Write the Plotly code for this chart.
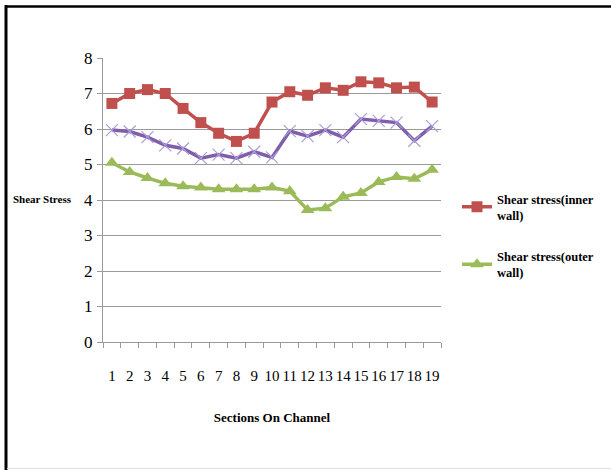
import plotly.graph_objects as go

sections = list(range(1, 20))
inner = [6.72, 7.0, 7.11, 7.0, 6.58, 6.18, 5.88, 5.65, 5.88, 6.76, 7.05, 6.95, 7.16, 7.09, 7.33, 7.3, 7.16, 7.18, 6.76]
outer = [5.05, 4.79, 4.62, 4.47, 4.39, 4.35, 4.3, 4.3, 4.3, 4.35, 4.25, 3.72, 3.77, 4.09, 4.2, 4.51, 4.65, 4.6, 4.85]
third = [5.97, 5.93, 5.77, 5.54, 5.45, 5.18, 5.28, 5.18, 5.36, 5.2, 5.94, 5.8, 5.97, 5.77, 6.28, 6.23, 6.18, 5.67, 6.08]
y_ticks = [0, 1, 2, 3, 4, 5, 6, 7, 8]

RED = "#C0504D"
GREEN = "#9BBB59"
PURPLE = "#7F5FAA"
FONT = "Liberation Serif, Times New Roman, serif"

x_cat = [str(s) for s in sections]

fig = go.Figure()
fig.add_trace(go.Scatter(
    x=x_cat, y=inner, mode="lines+markers", name="Shear stress(inner<br>wall)",
    legendgroup="inner",
    line=dict(color=RED, width=3.5),
    marker=dict(symbol="square", size=11, color=RED)))
fig.add_trace(go.Scatter(
    x=x_cat, y=outer, mode="lines+markers", name="Shear stress(outer<br>wall)",
    legendgroup="outer",
    line=dict(color=GREEN, width=3.5),
    marker=dict(symbol="triangle-up", size=12, color=GREEN)))
fig.add_trace(go.Scatter(
    x=x_cat, y=third, mode="lines+markers", showlegend=False,
    line=dict(color=PURPLE, width=3.5),
    marker=dict(symbol="x-thin-open", size=12, color="#AC9CDA", line=dict(color="#AC9CDA", width=1.2))))

L, R, T, B = 103, 170, 58, 128
W, H = 611, 470
pw, ph = W - L - R, H - T - B

def px(x):
    return (x - L) / pw

def py(y):
    return (H - B - y) / ph

fig.update_layout(
    width=W, height=H,
    margin=dict(l=L, r=R, t=T, b=B, pad=0),
    paper_bgcolor="white", plot_bgcolor="white",
    font=dict(family=FONT, color="black", size=15),
    legend=dict(x=px(457), y=py(184), xanchor="left", yanchor="top",
                font=dict(family=FONT, size=12.5, color="black", weight="bold"),
                traceorder="grouped", tracegroupgap=22, itemwidth=30,
                bgcolor="rgba(0,0,0,0)"),
    xaxis=dict(type="category", tickson="boundaries", ticks="outside", ticklen=5,
               tickmode="array", tickvals=x_cat, ticktext=x_cat, tickangle=0,
               tickcolor="#999999", showline=True, linecolor="#999999", linewidth=1,
               showgrid=False, ticklabelstandoff=20, tickfont=dict(size=15, family=FONT),
               range=[-0.5, 18.5],
               title=dict(text="<b>Sections On Channel</b>", font=dict(size=13, family=FONT), standoff=29)),
    yaxis=dict(range=[0, 8], tickvals=y_ticks, ticks="outside", ticklen=5, tickcolor="#999999",
               showline=True, linecolor="#999999", linewidth=1, showgrid=True,
               gridcolor="#9A9A9A", gridwidth=1, zeroline=False, ticklabelstandoff=1,
               tickfont=dict(size=17, family=FONT)),
    annotations=[dict(text="<b>Shear Stress</b>", x=px(11), y=py(199), xref="paper", yref="paper",
                      xanchor="left", yanchor="middle", showarrow=False,
                      font=dict(size=11, family=FONT, color="black"))],
    shapes=[
        dict(type="line", xref="paper", yref="paper", x0=px(6), x1=px(6), y0=py(5), y1=py(470),
             line=dict(color="black", width=3)),
        dict(type="line", xref="paper", yref="paper", x0=px(5), x1=px(611), y0=py(6.5), y1=py(6.5),
             line=dict(color="black", width=2.5)),
        dict(type="line", xref="paper", yref="paper", x0=px(7), x1=px(611), y0=py(468.5), y1=py(468.5),
             line=dict(color="#E0E0E0", width=1)),
    ],
)

fig.write_html("out.html")
